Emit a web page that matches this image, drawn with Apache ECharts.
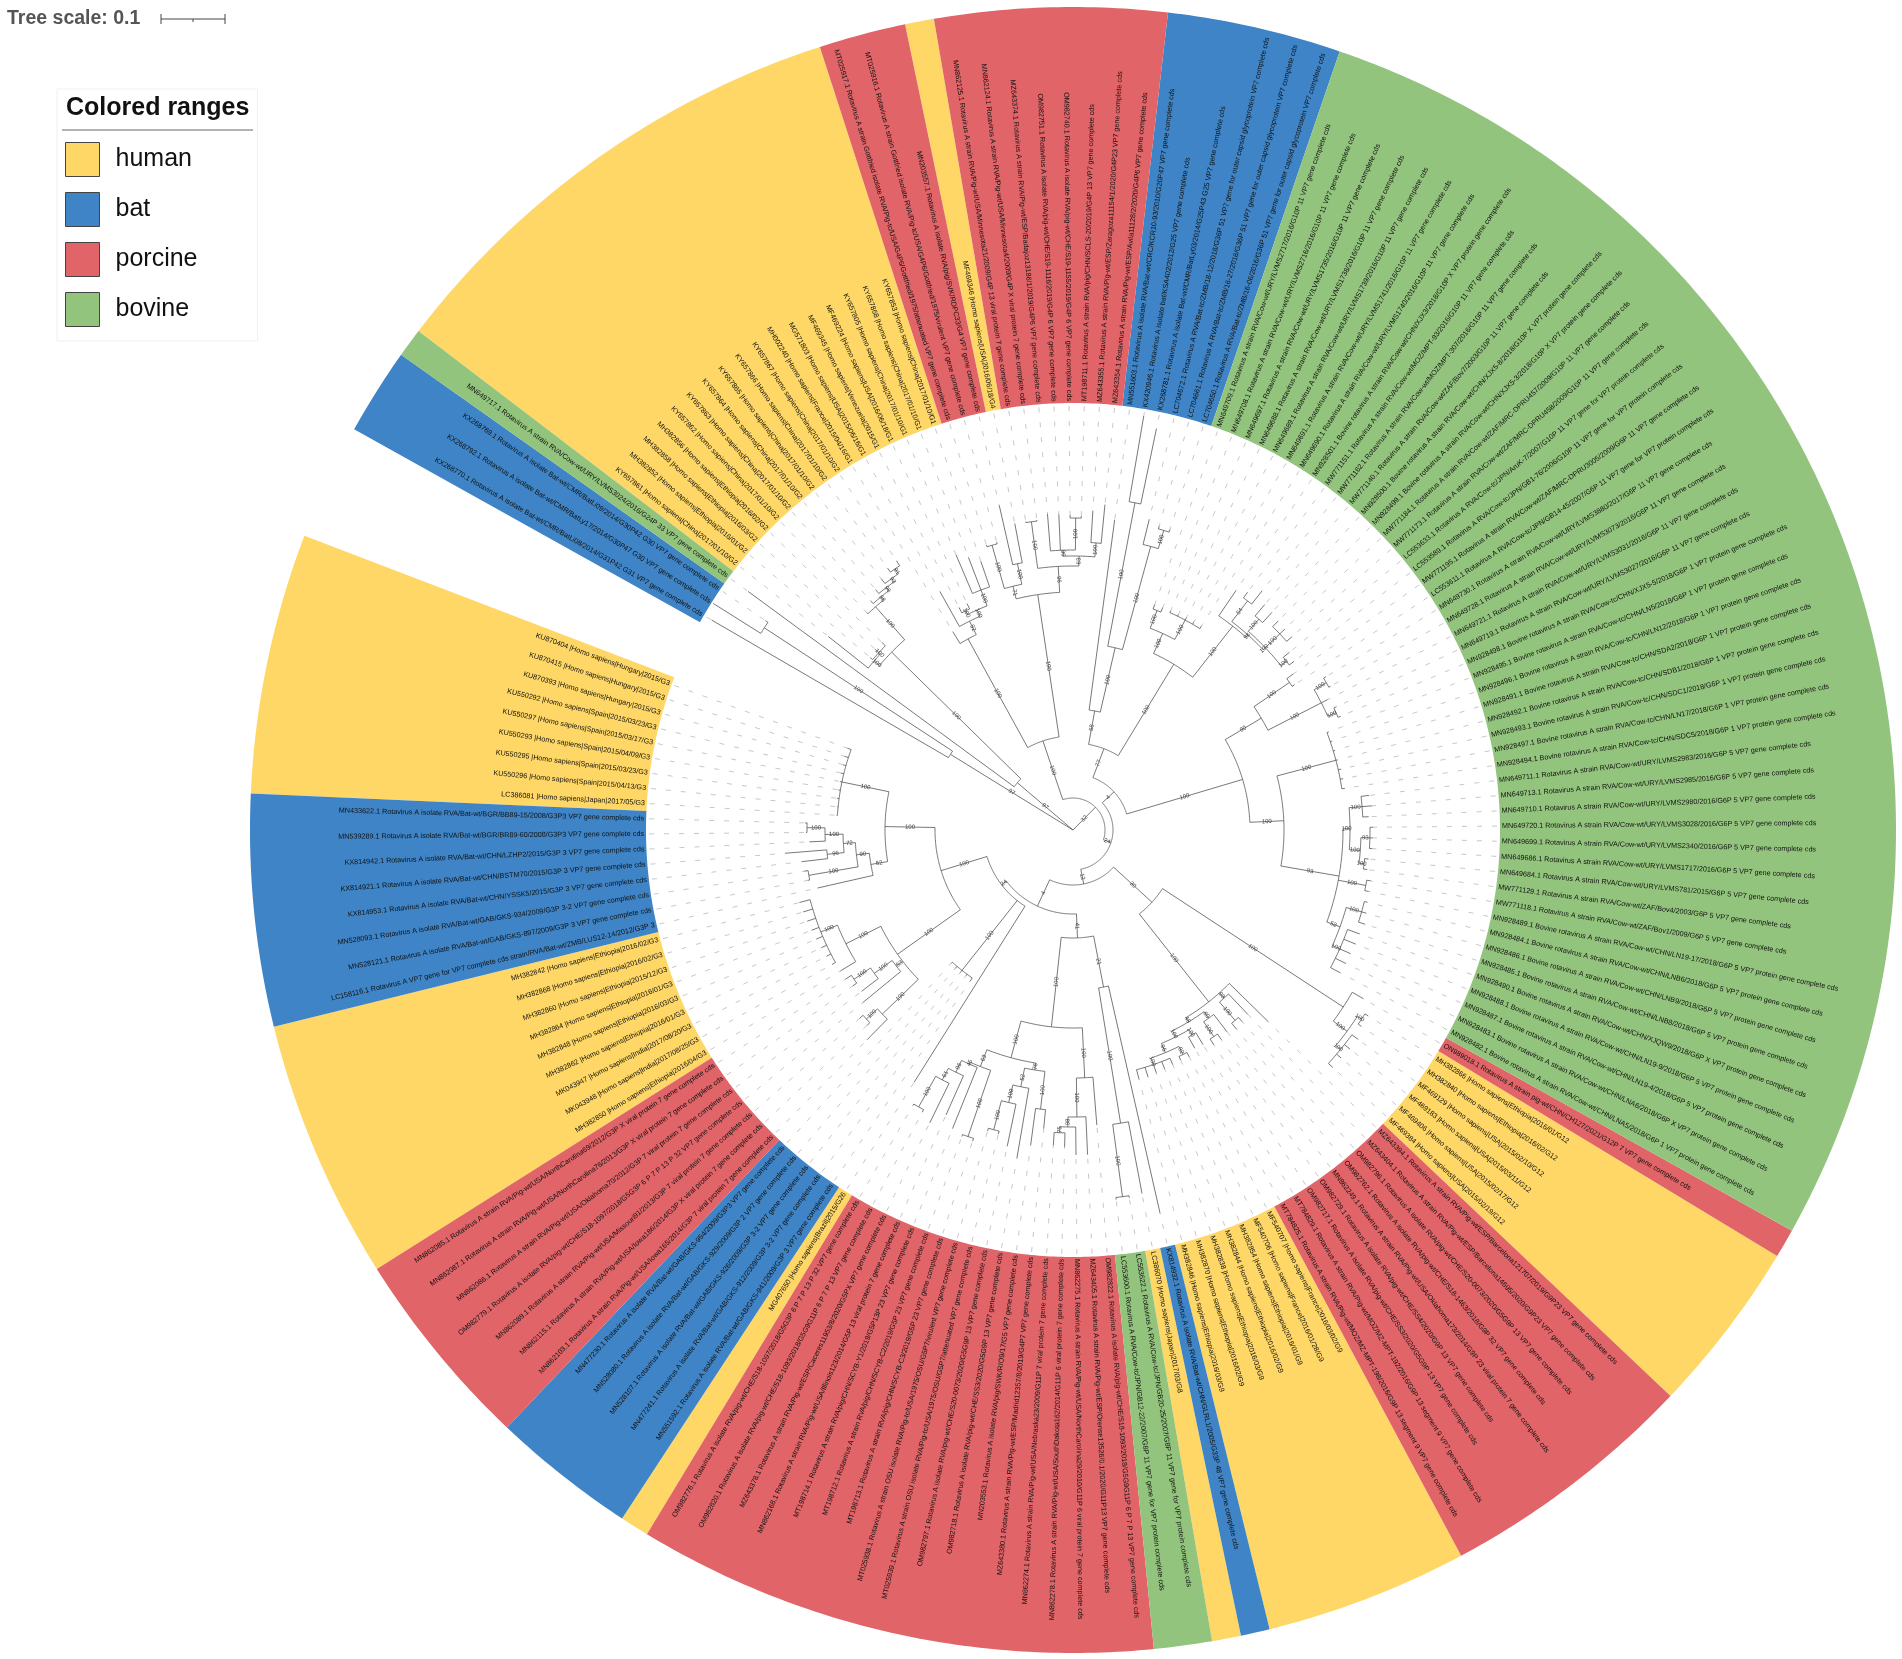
<!DOCTYPE html>
<html>
<head>
<meta charset="utf-8">
<title>Rotavirus VP7 tree</title>
<script src="https://cdn.jsdelivr.net/npm/echarts@6/dist/echarts.min.js"></script>
<style>
  html, body { margin: 0; padding: 0; background: #fff; }
  #chart { width: 1902px; height: 1659px; }
</style>
</head>
<body>
<div id="chart"></div>
<script>
// tips, counter-clockwise from the gap in the circle
const tipLabels = [
  'KU870404 |Homo sapiens|Hungary|2015/G3',
  'KU870415 |Homo sapiens|Hungary|2015/G3',
  'KU870393 |Homo sapiens|Hungary|2015/G3',
  'KU550292 |Homo sapiens|Spain|2015/03/23/G3',
  'KU550297 |Homo sapiens|Spain|2015/03/17/G3',
  'KU550293 |Homo sapiens|Spain|2015/04/09/G3',
  'KU550295 |Homo sapiens|Spain|2015/03/23/G3',
  'KU550296 |Homo sapiens|Spain|2015/04/13/G3',
  'LC386081 |Homo sapiens|Japan|2017/05/G3',
  'MN433622.1 Rotavirus A isolate RVA/Bat-wt/BGR/BB89-15/2008/G3P3 VP7 gene complete cds',
  'MN539289.1 Rotavirus A isolate RVA/Bat-wt/BGR/BR89-60/2008/G3P3 VP7 gene complete cds',
  'KX814942.1 Rotavirus A isolate RVA/Bat-wt/CHN/LZHP2/2015/G3P 3 VP7 gene complete cds',
  'KX814921.1 Rotavirus A isolate RVA/Bat-wt/CHN/BSTM70/2015/G3P 3 VP7 gene complete cds',
  'KX814953.1 Rotavirus A isolate RVA/Bat-wt/CHN/YSSK5/2015/G3P 3 VP7 gene complete cds',
  'MN528093.1 Rotavirus A isolate RVA/Bat-wt/GAB/GKS-934/2009/G3P 3-2 VP7 gene complete cds',
  'MN528121.1 Rotavirus A isolate RVA/Bat-wt/GAB/GKS-897/2009/G3P 3 VP7 gene complete cds',
  'LC158116.1 Rotavirus A VP7 gene for VP7 complete cds strain/RVA/Bat-wt/ZMB/LUS12-14/2012/G3P 3',
  'MH382842 |Homo sapiens|Ethiopia|2016/02/G3',
  'MH382868 |Homo sapiens|Ethiopia|2016/02/G3',
  'MH382860 |Homo sapiens|Ethiopia|2015/12/G3',
  'MH382864 |Homo sapiens|Ethiopia|2016/01/G3',
  'MH382848 |Homo sapiens|Ethiopia|2016/03/G3',
  'MH382862 |Homo sapiens|Ethiopia|2016/01/G3',
  'MK043947 |Homo sapiens|India|2017/08/20/G3',
  'MK043948 |Homo sapiens|India|2017/08/25/G3',
  'MH382850 |Homo sapiens|Ethiopia|2016/04/G3',
  'MN862085.1 Rotavirus A strain RVA/Pig-wt/USA/NorthCarolina69/2012/G3P X viral protein 7 gene complete cds',
  'MN862087.1 Rotavirus A strain RVA/Pig-wt/USA/NorthCarolina76/2013/G3P X viral protein 7 gene complete cds',
  'MN862086.1 Rotavirus A strain RVA/Pig-wt/USA/Oklahoma70/2012/G3P 7 viral protein 7 gene complete cds',
  'OM982779.1 Rotavirus A isolate RVA/pig-wt/CHE/S18-1097/2018/G5G3P 6 P 7 P 13 P 32 VP7 gene complete cds',
  'MN862089.1 Rotavirus A strain RVA/Pig-wt/USA/Missouri91/2013/G3P 7 viral protein 7 gene complete cds',
  'MN862115.1 Rotavirus A strain RVA/Pig-wt/USA/Iowa186/2014/G3P X viral protein 7 gene complete cds',
  'MN862103.1 Rotavirus A strain RVA/Pig-wt/USA/Iowa165/2014/G3P 7 viral protein 7 gene complete cds',
  'MN477230.1 Rotavirus A isolate RVA/Bat-wt/GAB/GKS-954/2009/G3P3 VP7 gene complete cds',
  'MN528080.1 Rotavirus A isolate RVA/Bat-wt/GAB/GKS-929/2009/G3P 2 VP7 gene complete cds',
  'MN528107.1 Rotavirus A isolate RVA/Bat-wt/GAB/GKS-926/2009/G3P 3-2 VP7 gene complete cds',
  'MN477241.1 Rotavirus A isolate RVA/Bat-wt/GAB/GKS-912/2009/G3P 3-2 VP7 gene complete cds',
  'MN551592.1 Rotavirus A isolate RVA/Bat-wt/GAB/GKS-941/2009/G3P 3 VP7 gene complete cds',
  'MG407650 |Homo sapiens|Brazil|2015/G26',
  'OM982776.1 Rotavirus A isolate RVA/pig-wt/CHE/S18-1097/2018/G5G3P 6 P 7 P 13 P 32 VP7 gene complete cds',
  'OM982820.1 Rotavirus A isolate RVA/pig-wt/CHE/S18-1093/2018/G5G9G11P 6 P 7 P 13 VP7 gene complete cds',
  'MZ643378.1 Rotavirus A strain RVA/Pig-wt/ESP/Caceres11953/8/2020/G5PX VP7 gene complete cds',
  'MN862168.1 Rotavirus A strain RVA/Pig-wt/USA/Illinois123/2014/G5P 13 viral protein 7 gene complete cds',
  'MT198714.1 Rotavirus A strain RVA/pig/CHN/SCYB-Y1/2019/G5P13P 23 VP7 gene complete cds',
  'MT198712.1 Rotavirus A strain RVA/pig/CHN/SCYB-C2/2019/G5P 23 VP7 gene complete cds',
  'MT198713.1 Rotavirus A strain RVA/pig/CHN/SCYB-C3/2019/G5P 23 VP7 gene complete cds',
  'MT025938.1 Rotavirus A strain OSU isolate RVA/Pig-tc/USA/1975/OSU/G5P7/virulent VP7 gene complete cds',
  'MT025939.1 Rotavirus A strain OSU isolate RVA/Pig-tc/USA/1975/OSU/G5P7/attenuated VP7 gene complete cds',
  'OM982797.1 Rotavirus A isolate RVA/pig-wt/CHE/S20-0073/2020/G5G9P 13 VP7 gene complete cds',
  'OM982718.1 Rotavirus A isolate RVA/pig-wt/CHE/SS3/2020/G5G9P 13 VP7 gene complete cds',
  'MN203553.1 Rotavirus A isolate RVA/pig/SWK/RIO9/17/G5 VP7 gene complete cds',
  'MZ643380.1 Rotavirus A strain RVA/Pig-wt/ESP/Madrid12357/8/2019/G4P7 VP7 gene complete cds',
  'MN862274.1 Rotavirus A strain RVA/Pig-wt/USA/Nebraska23/2009/G11P 7 viral protein 7 gene complete cds',
  'MN862278.1 Rotavirus A strain RVA/Pig-wt/USA/SouthDakota162/2014/G11P 6 viral protein 7 gene complete cds',
  'MN862275.1 Rotavirus A strain RVA/Pig-wt/USA/NorthCarolina29/2010/G11P 6 viral protein 7 gene complete cds',
  'MZ643405.1 Rotavirus A strain RVA/Pig-wt/ESP/Orense13526/0.1/2020/G11P13 VP7 gene complete cds',
  'OM982822.1 Rotavirus A isolate RVA/pig-wt/CHE/S18-1093/2018/G5G9G11P 6 P 7 P 13 VP7 gene complete cds',
  'LC553600.1 Rotavirus A RVA/Cow-tc/JPN/GB12-22/2007/G8P 11 VP7 gene for VP7 protein complete cds',
  'LC553622.1 Rotavirus A RVA/Cow-tc/JPN/GB20-25/2007/G8P 11 VP7 gene for VP7 protein complete cds',
  'LC386070 |Homo sapiens|Japan|2017/03/G8',
  'KX814932.1 Rotavirus A isolate RVA/Bat-wt/CHN/GLRL1/2005/G33P 48 VP7 gene complete cds',
  'MH382846 |Homo sapiens|Ethiopia|2016/03/G9',
  'MH382870 |Homo sapiens|Ethiopia|2016/02/G9',
  'MH382838 |Homo sapiens|Ethiopia|2016/03/G9',
  'MH382844 |Homo sapiens|Ethiopia|2016/02/G9',
  'MH382854 |Homo sapiens|Ethiopia|2016/01/G9',
  'MF540706 |Homo sapiens|France|2016/01/28/G9',
  'MF540707 |Homo sapiens|France|2016/03/02/G9',
  'MT784825.1 Rotavirus A strain RVA/Pig-wt/MOZ/MZ-MPT-198/2016/G9P 13 segment 9 VP7 gene complete cds',
  'MT784829.1 Rotavirus A strain RVA/Pig-wt/MOZ/MZ-MPT-192/2016/G9P 13 segment 9 VP7 gene complete cds',
  'OM982717.1 Rotavirus A isolate RVA/pig-wt/CHE/SS3/2020/G5G9P 13 VP7 gene complete cds',
  'OM982729.1 Rotavirus A isolate RVA/pig-wt/CHE/SS4/2020/G9P 13 VP7 gene complete cds',
  'MN862249.1 Rotavirus A strain RVA/Pig-wt/USA/Oklahoma173/2014/G9P 23 viral protein 7 gene complete cds',
  'OM982762.1 Rotavirus A isolate RVA/pig-wt/CHE/S18-1463/2018/G9P 32 VP7 gene complete cds',
  'OM982796.1 Rotavirus A isolate RVA/pig-wt/CHE/S20-0073/2020/G5G9P 13 VP7 gene complete cds',
  'MZ643404.1 Rotavirus A strain RVA/Pig-wt/ESP/Barcelona14695/2020/G9P23 VP7 gene complete cds',
  'MZ643394.1 Rotavirus A strain RVA/Pig-wt/ESP/Barcelona121707/2019/G9P23 VP7 gene complete cds',
  'MF469384 |Homo sapiens|USA|2015/02/19/G12',
  'MF469406 |Homo sapiens|USA|2015/02/17/G12',
  'MF469183 |Homo sapiens|USA|2015/03/11/G12',
  'MF469129 |Homo sapiens|USA|2015/02/10/G12',
  'MH382840 |Homo sapiens|Ethiopia|2016/02/G12',
  'MH382866 |Homo sapiens|Ethiopia|2016/01/G12',
  'ON989018.1 Rotavirus A strain pig-wt/CHN/CH127/2021/G12P 7 VP7 gene complete cds',
  'MN928482.1 Bovine rotavirus A strain RVA/Cow-wt/CHN/LNA5/2018/G6P 1 VP7 protein gene complete cds',
  'MN928483.1 Bovine rotavirus A strain RVA/Cow-wt/CHN/LNA6/2018/G6P X VP7 protein gene complete cds',
  'MN928487.1 Bovine rotavirus A strain RVA/Cow-wt/CHN/LN19-4/2018/G6P 5 VP7 protein gene complete cds',
  'MN928488.1 Bovine rotavirus A strain RVA/Cow-wt/CHN/LN19-9/2018/G6P 5 VP7 protein gene complete cds',
  'MN928490.1 Bovine rotavirus A strain RVA/Cow-wt/CHN/XJQW9/2018/G6P X VP7 protein gene complete cds',
  'MN928485.1 Bovine rotavirus A strain RVA/Cow-wt/CHN/LNB8/2018/G6P 5 VP7 protein gene complete cds',
  'MN928486.1 Bovine rotavirus A strain RVA/Cow-wt/CHN/LNB9/2018/G6P 5 VP7 protein gene complete cds',
  'MN928484.1 Bovine rotavirus A strain RVA/Cow-wt/CHN/LNB6/2018/G6P 5 VP7 protein gene complete cds',
  'MN928489.1 Bovine rotavirus A strain RVA/Cow-wt/CHN/LN19-17/2018/G6P 5 VP7 protein gene complete cds',
  'MW771118.1 Rotavirus A strain RVA/Cow-wt/ZAF/Bov1/2009/G6P 5 VP7 gene complete cds',
  'MW771129.1 Rotavirus A strain RVA/Cow-wt/ZAF/Bov4/2003/G6P 5 VP7 gene complete cds',
  'MN649684.1 Rotavirus A strain RVA/Cow-wt/URY/LVMS781/2015/G6P 5 VP7 gene complete cds',
  'MN649686.1 Rotavirus A strain RVA/Cow-wt/URY/LVMS1717/2016/G6P 5 VP7 gene complete cds',
  'MN649699.1 Rotavirus A strain RVA/Cow-wt/URY/LVMS2340/2016/G6P 5 VP7 gene complete cds',
  'MN649720.1 Rotavirus A strain RVA/Cow-wt/URY/LVMS3028/2016/G6P 5 VP7 gene complete cds',
  'MN649710.1 Rotavirus A strain RVA/Cow-wt/URY/LVMS2980/2016/G6P 5 VP7 gene complete cds',
  'MN649713.1 Rotavirus A strain RVA/Cow-wt/URY/LVMS2985/2016/G6P 5 VP7 gene complete cds',
  'MN649711.1 Rotavirus A strain RVA/Cow-wt/URY/LVMS2983/2016/G6P 5 VP7 gene complete cds',
  'MN928494.1 Bovine rotavirus A strain RVA/Cow-tc/CHN/SDC5/2018/G6P 1 VP7 protein gene complete cds',
  'MN928497.1 Bovine rotavirus A strain RVA/Cow-tc/CHN/LN17/2018/G6P 1 VP7 protein gene complete cds',
  'MN928493.1 Bovine rotavirus A strain RVA/Cow-tc/CHN/SDC1/2018/G6P 1 VP7 protein gene complete cds',
  'MN928492.1 Bovine rotavirus A strain RVA/Cow-tc/CHN/SDB1/2018/G6P 1 VP7 protein gene complete cds',
  'MN928491.1 Bovine rotavirus A strain RVA/Cow-tc/CHN/SDA2/2018/G6P 1 VP7 protein gene complete cds',
  'MN928496.1 Bovine rotavirus A strain RVA/Cow-tc/CHN/LN12/2018/G6P 1 VP7 protein gene complete cds',
  'MN928495.1 Bovine rotavirus A strain RVA/Cow-tc/CHN/LN5/2018/G6P 1 VP7 protein gene complete cds',
  'MN928498.1 Bovine rotavirus A strain RVA/Cow-tc/CHN/XJX5-5/2018/G6P 1 VP7 protein gene complete cds',
  'MN649719.1 Rotavirus A strain RVA/Cow-wt/URY/LVMS3027/2016/G6P 11 VP7 gene complete cds',
  'MN649721.1 Rotavirus A strain RVA/Cow-wt/URY/LVMS3031/2016/G6P 11 VP7 gene complete cds',
  'MN649728.1 Rotavirus A strain RVA/Cow-wt/URY/LVMS3073/2016/G6P 11 VP7 gene complete cds',
  'MN649730.1 Rotavirus A strain RVA/Cow-wt/URY/LVMS3880/2017/G6P 11 VP7 gene complete cds',
  'LC553611.1 Rotavirus A RVA/Cow-tc/JPN/GB14-45/2007/G6P 11 VP7 gene for VP7 protein complete cds',
  'MW771195.1 Rotavirus A strain RVA/Cow-wt/ZAF/MRC-DPRU3005/2009/G6P 11 VP7 gene complete cds',
  'LC553589.1 Rotavirus A RVA/Cow-tc/JPN/GB1-76/2006/G10P 11 VP7 gene for VP7 protein complete cds',
  'LC553633.1 Rotavirus A RVA/Cow-tc/JPN/AruK-7/2007/G10P 11 VP7 gene for VP7 protein complete cds',
  'MW771173.1 Rotavirus A strain RVA/Cow-wt/ZAF/MRC-DPRU458/2009/G10P 11 VP7 gene complete cds',
  'MW771184.1 Rotavirus A strain RVA/Cow-wt/ZAF/MRC-DPRU457/2009/G10P 11 VP7 gene complete cds',
  'MN928499.1 Bovine rotavirus A strain RVA/Cow-wt/CHN/XJX5-3/2018/G10P X VP7 protein gene complete cds',
  'MN928500.1 Bovine rotavirus A strain RVA/Cow-wt/CHN/XJX5-8/2018/G10P X VP7 protein gene complete cds',
  'MW771140.1 Rotavirus A strain RVA/Cow-wt/ZAF/Bov7/2003/G10P 11 VP7 gene complete cds',
  'MW771162.1 Rotavirus A strain RVA/Cow-wt/MOZ/MPT-307/2016/G10P 11 VP7 gene complete cds',
  'MW771151.1 Rotavirus A strain RVA/Cow-wt/MOZ/MPT-93/2016/G10P 11 VP7 gene complete cds',
  'MN928501.1 Bovine rotavirus A strain RVA/Cow-wt/CHN/XJX3/2018/G10P X VP7 protein gene complete cds',
  'MN649690.1 Rotavirus A strain RVA/Cow-wt/URY/LVMS1740/2016/G10P 11 VP7 gene complete cds',
  'MN649691.1 Rotavirus A strain RVA/Cow-wt/URY/LVMS1741/2016/G10P 11 VP7 gene complete cds',
  'MN649689.1 Rotavirus A strain RVA/Cow-wt/URY/LVMS1739/2016/G10P 11 VP7 gene complete cds',
  'MN649688.1 Rotavirus A strain RVA/Cow-wt/URY/LVMS1738/2016/G10P 11 VP7 gene complete cds',
  'MN649697.1 Rotavirus A strain RVA/Cow-wt/URY/LVMS1735/2016/G10P 11 VP7 gene complete cds',
  'MN649708.1 Rotavirus A strain RVA/Cow-wt/URY/LVMS2716/2016/G10P 11 VP7 gene complete cds',
  'MN649709.1 Rotavirus A strain RVA/Cow-wt/URY/LVMS2717/2016/G10P 11 VP7 gene complete cds',
  'LC704650.1 Rotavirus A RVA/Bat-tc/ZMB/16-06/2016/G36P 51 VP7 gene for outer capsid glycoprotein VP7 complete cds',
  'LC704661.1 Rotavirus A RVA/Bat-tc/ZMB/16-27/2016/G36P 51 VP7 gene for outer capsid glycoprotein VP7 complete cds',
  'LC704672.1 Rotavirus A RVA/Bat-tc/ZMB/18-12/2018/G36P 51 VP7 gene for outer capsid glycoprotein VP7 complete cds',
  'KX268781.1 Rotavirus A isolate Bat-wt/CMR/BatLy03/2014/G25P43 G25 VP7 gene complete cds',
  'KX420946.1 Rotavirus A isolate bat/KSA402/2012/G25 VP7 gene complete cds',
  'MN551603.1 Rotavirus A isolate RVA/Bat-wt/CRC/KCR10-93/2010/G20P47 VP7 gene complete cds',
  'MZ643354.1 Rotavirus A strain RVA/Pig-wt/ESP/Avila11128/2/2020/G4P6 VP7 gene complete cds',
  'MZ643355.1 Rotavirus A strain RVA/Pig-wt/ESP/Zaragoza11154/1/2020/G4P23 VP7 gene complete cds',
  'MT198711.1 Rotavirus A strain RVA/pig/CHN/SCLS-20/2019/G4P 13 VP7 gene complete cds',
  'OM982740.1 Rotavirus A isolate RVA/pig-wt/CHE/S19-1155/2019/G4P 6 VP7 gene complete cds',
  'OM982751.1 Rotavirus A isolate RVA/pig-wt/CHE/S19-1116/2019/G4P 6 VP7 gene complete cds',
  'MZ643374.1 Rotavirus A strain RVA/Pig-wt/ESP/Badajoz13186/1/2019/G4P6 VP7 gene complete cds',
  'MN862124.1 Rotavirus A strain RVA/Pig-wt/USA/Minnesota4/2009/G4P X viral protein 7 gene complete cds',
  'MN862125.1 Rotavirus A strain RVA/Pig-wt/USA/Minnesota21/2009/G4P 13 viral protein 7 gene complete cds',
  'MF469346 |Homo sapiens|USA|2016/06/18/G4',
  'MN203557.1 Rotavirus A isolate RVA/pig/SVK/RDPC33/G4 VP7 gene complete cds',
  'MT025916.1 Rotavirus A strain Gottfried isolate RVA/Pig-tc/USA/G4P6/Gottfried/1975/virulent VP7 gene complete cds',
  'MT025917.1 Rotavirus A strain Gottfried isolate RVA/Pig-tc/USA/G4P6/Gottfried/1975/attenuated VP7 gene complete cds',
  'KY657853 |Homo sapiens|China|2017/01/10/G1',
  'KY657868 |Homo sapiens|China|2017/01/10/G1',
  'KY657805 |Homo sapiens|China|2017/01/10/G1',
  'MF469224 |Homo sapiens|USA|2016/06/18/G1',
  'MF469345 |Homo sapiens|Venezuela|2015/G1',
  'MG571803 |Homo sapiens|USA|2015/06/16/G1',
  'MH002240 |Homo sapiens|France|2015/04/16/G1',
  'KY657867 |Homo sapiens|China|2017/01/10/G2',
  'KY657866 |Homo sapiens|China|2017/01/10/G2',
  'KY657865 |Homo sapiens|China|2017/01/10/G2',
  'KY657864 |Homo sapiens|China|2017/01/10/G2',
  'KY657863 |Homo sapiens|China|2017/01/10/G2',
  'KY657862 |Homo sapiens|China|2017/01/10/G2',
  'MH382856 |Homo sapiens|Ethiopia|2016/02/G2',
  'MH382858 |Homo sapiens|Ethiopia|2016/03/G2',
  'MH382852 |Homo sapiens|Ethiopia|2016/01/G2',
  'KY657861 |Homo sapiens|China|2017/01/10/G2',
  'MN649717.1 Rotavirus A strain RVA/Cow-wt/URY/LVMS3024/2016/G24P 33 VP7 gene complete cds',
  'KX268769.1 Rotavirus A isolate Bat-wt/CMR/BatLi09/2014/G30P42 G30 VP7 gene complete cds',
  'KX268792.1 Rotavirus A isolate Bat-wt/CMR/BatLy17/2014/G30P47 G30 VP7 gene complete cds',
  'KX268770.1 Rotavirus A isolate Bat-wt/CMR/BatLi08/2014/G31P42 G31 VP7 gene complete cds'
];

// how far out each tip ends, same order as tipLabels
const tipDepth = [
  240, 240, 239, 239, 238, 238, 238, 237, 237,
  268, 267, 264, 289, 273, 272, 270, 262,
  283, 282, 281, 280, 279, 278, 277, 276, 272,
  272, 270, 266, 272, 285, 284, 294,
  181, 182, 182, 181, 183, 298,
  319, 320, 326, 312, 322, 326, 327, 313, 313, 323, 333, 318, 300, 316, 317, 325, 325, 296,
  372, 372, 370, 393,
  258, 258, 257, 256, 255, 254, 255, 250, 251, 257, 257, 254, 258, 256, 254, 274,
  352, 352, 353, 354, 349, 349, 336,
  303, 304, 304, 305, 305, 307, 305, 303, 302, 302,
  297, 297, 300, 300, 300, 296, 300, 298,
  275, 275, 275, 274, 274, 274, 274,
  291, 291, 286, 295, 296, 265, 270,
  278, 280, 292, 292, 293, 295, 296, 305, 295, 290,
  241, 241, 241, 240, 240, 240, 240,
  316, 316, 320, 410, 420, 313,
  327, 320, 314, 315, 316, 317, 312, 312, 312, 333, 298, 298,
  284, 292, 299, 250, 250, 273, 232,
  322, 321, 316, 311, 306, 300, 268, 268, 266, 312,
  403, 372, 425, 418
];

// colored ranges, in tip order
const rangeGroup = ['human', 'bat', 'human', 'porcine', 'bat', 'human', 'porcine', 'bovine', 'human', 'bat', 'human',
  'porcine', 'human', 'porcine', 'bovine', 'bat', 'porcine', 'human', 'porcine', 'human', 'bovine', 'bat'];
const rangeSize = [9, 8, 9, 7, 5, 1, 18, 2, 1, 1, 7, 9, 6, 1, 49, 6, 8, 1, 3, 17, 1, 3];

const groupNames = ['human', 'bat', 'porcine', 'bovine'];
const groupColors = ['#fed766', '#3e84c6', '#e06468', '#93c47d'];

// clades: first tip, last tip, depth of the node, bootstrap support
const cladeFirst = [0, 0, 0, 0, 0, 0, 0, 0, 0, 9, 9, 14, 9, 9, 9, 12, 17, 17, 17, 26, 26, 26, 30, 30, 33,
  39, 39, 39, 39, 39, 39, 39, 39, 44, 46, 46, 46, 46, 50, 52, 52, 52, 52, 57, 57, 57,
  61, 61, 61, 61, 68, 61, 61, 66, 70, 70, 73, 73, 77, 77, 77, 81,
  84, 84, 84, 84, 84, 89, 92, 94, 94, 94, 96, 99, 102, 109, 109, 109, 112, 114,
  84, 116, 116, 116, 116, 116, 116, 118, 121, 123, 126, 126, 131, 133, 133, 133, 133, 136,
  139, 151, 151, 151, 154, 151, 139, 147, 147, 149, 139, 145, 139, 141, 141, 139,
  158, 158, 158, 158, 158, 158, 158, 164, 164, 169, 169];
const cladeLast = [171, 157, 138, 83, 60, 38, 32, 16, 8, 16, 15, 15, 13, 11, 10, 13, 32, 25, 24, 29, 28, 27, 32, 31, 37,
  60, 56, 51, 45, 43, 42, 41, 40, 45, 51, 49, 48, 47, 51, 56, 55, 54, 53, 59, 58, 60,
  83, 76, 72, 69, 69, 67, 65, 67, 72, 71, 75, 74, 83, 82, 80, 82,
  138, 115, 108, 101, 91, 91, 93, 101, 98, 95, 98, 101, 108, 115, 113, 110, 113, 115,
  88, 138, 132, 125, 124, 122, 117, 120, 122, 124, 132, 130, 132, 138, 137, 135, 134, 137,
  157, 157, 156, 155, 155, 153, 150, 150, 148, 150, 146, 146, 144, 144, 142, 140,
  168, 167, 163, 162, 161, 160, 159, 167, 166, 171, 170];
const cladeDepth = [0, 32, 40, 55, 84, 90, 138, 188, 236, 205, 218, 268, 230, 248, 266, 247, 215, 254, 272, 223, 245, 265, 265, 280, 179,
  108, 198, 236, 254, 256, 269, 282, 317, 324, 243, 262, 280, 310, 281, 248, 287, 297, 303, 297, 370, 160,
  107, 219, 224, 231, 237, 241, 248, 250, 232, 250, 226, 250, 323, 340, 346, 345,
  56, 177, 211, 270, 284, 300, 298, 277, 288, 293, 297, 290, 272, 219, 279, 288, 293, 262,
  292, 87, 194, 259, 262, 265, 272, 285, 281, 288, 216, 238, 235, 121, 187, 294, 313, 333,
  94, 218, 233, 240, 244, 257, 238, 251, 272, 296, 264, 311, 274, 280, 312, 288,
  73, 254, 298, 302, 306, 310, 316, 261, 263, 144, 369];
const cladeSupport = [0, 32, 24, 12, 4, 24, 100, 100, 100, 52, 90, 100, 72, 100, 100, 96, 100, 100, 100, 53, 100, 100, 100, 100, 100,
  41, 100, 100, 63, 45, 96, 61, 100, 100, 76, 52, 100, 100, 100, 100, 100, 98, 75, 100, 100, 21,
  30, 100, 48, 100, 100, 96, 100, 92, 60, 100, 98, 100, 100, 100, 100, 100,
  4, 100, 100, 93, 52, 100, 100, 100, 100, 100, 93, 100, 100, 90, 100, 100, 100, 100,
  100, 77, 100, 100, 98, 100, 100, 100, 100, 54, 100, 100, 100, 58, 100, 100, 100, 100,
  100, 100, 92, 100, 100, 100, 100, 71, 100, 100, 96, 100, 63, 96, 100, 100,
  97, 100, 100, 98, 96, 93, 91, 100, 100, 97, 100];

const slotCount = 176;
const gapEndAngle = 159.05;
const bandDepth = 427;
const outerDepth = 823;
const lineColor = '#555';
const labelFont = 'Liberation Sans';

// turn the clade tables into a tree, children found by containment
function buildTree() {
  const nodes = cladeFirst.map(function (first, i) {
    return { first: first, last: cladeLast[i], depth: cladeDepth[i], support: cladeSupport[i], kids: [], parent: null };
  });
  const sorted = nodes.slice().sort(function (a, b) {
    return (b.last - b.first) - (a.last - a.first) || a.depth - b.depth;
  });
  sorted.forEach(function (node, i) {
    for (let j = i - 1; j >= 0; j--) {
      if (sorted[j].first <= node.first && sorted[j].last >= node.last) {
        node.parent = sorted[j];
        sorted[j].kids.push(node);
        break;
      }
    }
  });
  const tips = tipLabels.map(function (label, i) {
    let parent = null;
    sorted.forEach(function (node) {
      if (node.first <= i && node.last >= i) parent = node;
    });
    const tip = { first: i, last: i, depth: tipDepth[i], slot: i + 0.5, parent: parent, kids: [] };
    parent.kids.push(tip);
    return tip;
  });
  function place(node) {
    if (node.slot !== undefined) return node.slot;
    node.kids.sort(function (a, b) { return a.first - b.first; });
    node.kids.forEach(place);
    node.slot = (node.kids[0].slot + node.kids[node.kids.length - 1].slot) / 2;
    return node.slot;
  }
  place(sorted[0]);
  return { clades: sorted, tips: tips };
}

const tree = buildTree();
const branches = tree.clades.concat(tree.tips).filter(function (b) { return b.parent; });

function rangeRows() {
  const rows = { human: [], bat: [], porcine: [], bovine: [] };
  let start = 0;
  rangeGroup.forEach(function (group, i) {
    rows[group].push([start, start + rangeSize[i]]);
    start += rangeSize[i];
  });
  return rows;
}

function renderRange(params, api) {
  const from = api.value(0);
  const to = api.value(1);
  const points = [];
  for (let s = from; s < to; s += 0.25) points.push(api.coord([outerDepth, s]));
  points.push(api.coord([outerDepth, to]));
  for (let s = to; s > from; s -= 0.25) points.push(api.coord([bandDepth, s]));
  points.push(api.coord([bandDepth, from]));
  return { type: 'polygon', shape: { points: points }, style: { fill: api.visual('color') } };
}

function renderDash(params, api) {
  const i = params.dataIndex;
  const a = api.coord([bandDepth - 3, i + 0.5]);
  const b = api.coord([tipDepth[i], i + 0.5]);
  return {
    type: 'line',
    shape: { x1: a[0], y1: a[1], x2: b[0], y2: b[1] },
    style: { stroke: '#c8c8c8', lineWidth: 1, lineDash: [5, 10] }
  };
}

// radial text keeps reading left to right, flipped on the left half
function radialText(api, depth, slot, text, size, color, alignOut) {
  const p = api.coord([depth, slot]);
  const q = api.coord([depth + 10, slot]);
  let angle = Math.atan2(p[1] - q[1], q[0] - p[0]);
  const flip = Math.cos(angle) < 0;
  if (flip) angle += Math.PI;
  return {
    type: 'text',
    x: p[0],
    y: p[1],
    rotation: angle,
    silent: true,
    style: {
      text: text,
      fontSize: size,
      fontFamily: labelFont,
      fill: color,
      align: alignOut ? (flip ? 'right' : 'left') : 'center',
      verticalAlign: 'middle'
    }
  };
}

function renderBranch(params, api) {
  const b = branches[params.dataIndex];
  const children = [];
  const lineStyle = { stroke: lineColor, lineWidth: 0.8, fill: 'none' };
  const p0 = api.coord([b.parent.depth, b.slot]);
  const p1 = api.coord([b.depth, b.slot]);
  children.push({ type: 'line', shape: { x1: p0[0], y1: p0[1], x2: p1[0], y2: p1[1] }, style: lineStyle });
  if (b.kids.length) {
    const from = b.kids[0].slot;
    const to = b.kids[b.kids.length - 1].slot;
    const points = [];
    for (let s = from; s < to; s += 0.25) points.push(api.coord([b.depth, s]));
    points.push(api.coord([b.depth, to]));
    if (b.depth > 0) children.push({ type: 'polyline', shape: { points: points }, style: lineStyle });
    if (b.support) {
      children.push(radialText(api, (b.parent.depth + b.depth) / 2, b.slot, String(b.support), 6, '#444', false));
    }
  }
  return { type: 'group', children: children };
}

function renderLabel(params, api) {
  const i = params.dataIndex;
  return radialText(api, bandDepth + 2, i + 0.5, tipLabels[i], 7.2, '#111', true);
}

const ranges = rangeRows();
const rangeSeries = groupNames.map(function (name, i) {
  return {
    name: name,
    type: 'custom',
    coordinateSystem: 'polar',
    renderItem: renderRange,
    itemStyle: { color: groupColors[i] },
    silent: true,
    animation: false,
    data: ranges[name]
  };
});

const chart = echarts.init(document.getElementById('chart'));
chart.setOption({
  backgroundColor: '#fff',
  animation: false,
  polar: { center: [1073, 830], radius: [0, outerDepth] },
  angleAxis: {
    type: 'value',
    min: 0,
    max: slotCount,
    startAngle: gapEndAngle,
    clockwise: false,
    axisLine: { show: false },
    axisTick: { show: false },
    axisLabel: { show: false },
    splitLine: { show: false }
  },
  radiusAxis: {
    type: 'value',
    min: 0,
    max: outerDepth,
    axisLine: { show: false },
    axisTick: { show: false },
    axisLabel: { show: false },
    splitLine: { show: false }
  },
  legend: {
    orient: 'vertical',
    left: 57,
    top: 89,
    padding: [53, 60, 14, 8],
    itemWidth: 34,
    itemHeight: 34,
    itemGap: 15,
    itemStyle: { borderColor: '#444', borderWidth: 1 },
    backgroundColor: '#fff',
    borderColor: '#f1f1f1',
    borderWidth: 1,
    selectedMode: false,
    textStyle: { fontFamily: labelFont, fontSize: 25, color: '#111', padding: [0, 0, 0, 11] },
    data: groupNames.map(function (name) { return { name: name, icon: 'rect' }; })
  },
  graphic: [
    { type: 'text', left: 7, top: 9, style: { text: 'Tree scale: 0.1', fontFamily: labelFont, fontWeight: 'bold', fontSize: 19.5, fill: '#555' } },
    { type: 'line', shape: { x1: 161, y1: 19, x2: 225, y2: 19 }, style: { stroke: '#444', lineWidth: 1 } },
    { type: 'line', shape: { x1: 161, y1: 14, x2: 161, y2: 24 }, style: { stroke: '#444', lineWidth: 1 } },
    { type: 'line', shape: { x1: 225, y1: 14, x2: 225, y2: 24 }, style: { stroke: '#444', lineWidth: 1 } },
    { type: 'line', shape: { x1: 193, y1: 19, x2: 193, y2: 22 }, style: { stroke: '#444', lineWidth: 1 } },
    { type: 'text', left: 66, top: 96, z: 100, style: { text: 'Colored ranges', fontFamily: labelFont, fontWeight: 'bold', fontSize: 25, fill: '#111' } },
    { type: 'line', z: 100, shape: { x1: 62, y1: 130, x2: 253, y2: 130 }, style: { stroke: '#666', lineWidth: 1 } }
  ],
  series: rangeSeries.concat([
    {
      type: 'custom',
      coordinateSystem: 'polar',
      renderItem: renderDash,
      silent: true,
      data: tipLabels.map(function (label, i) { return [tipDepth[i], i + 0.5]; })
    },
    {
      type: 'custom',
      coordinateSystem: 'polar',
      renderItem: renderBranch,
      silent: true,
      data: branches.map(function (b) { return [b.depth, b.slot]; })
    },
    {
      type: 'custom',
      coordinateSystem: 'polar',
      renderItem: renderLabel,
      silent: true,
      data: tipLabels.map(function (label, i) { return [bandDepth, i + 0.5]; })
    }
  ])
});
</script>
</body>
</html>
